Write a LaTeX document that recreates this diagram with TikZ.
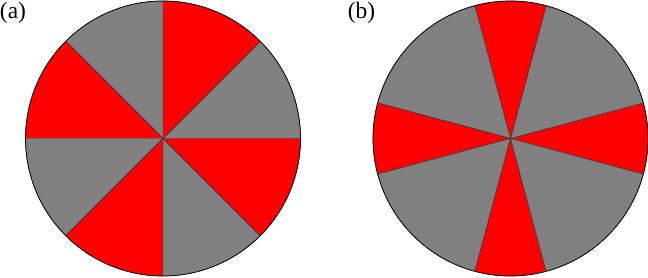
\documentclass[tikz,border=0pt]{standalone}
\usepackage{fontspec}
\setmainfont{Liberation Serif}
\usetikzlibrary{positioning}
\definecolor{sectred}{RGB}{255,0,0}
\definecolor{sectgray}{RGB}{128,128,128}
\definecolor{edgegray}{RGB}{55,55,55}

\begin{document}
\begin{tikzpicture}[
  x=0.03cm, y=0.03cm,
  panel/.style={font=\fontsize{20}{24}\selectfont, inner sep=0pt},
  sector/.style={fill=#1, draw=edgegray, line width=0.4pt},
  rim/.style={draw=black, line width=0.6pt},
]
\useasboundingbox (0,0) rectangle (648,277);

%% (a): eight equal sectors
\coordinate (ca) at (163,138.5);
\foreach \a/\c in {0/sectgray, 45/sectred, 90/sectgray, 135/sectred,
                   180/sectgray, 225/sectred, 270/sectgray, 315/sectred}
  \path[sector=\c] (ca) -- ++(\a:137.5)
    arc[start angle=\a, end angle=\a+45, radius=137.5] -- cycle;
\draw[rim] (ca) circle[radius=137.5];

%% (b): narrow red sectors, wide gray ones
\coordinate (cb) at (510.5,138.5);
\foreach \a/\w/\c in {-15/30/sectred, 15/60/sectgray, 75/30/sectred, 105/60/sectgray,
                      165/30/sectred, 195/60/sectgray, 255/30/sectred, 285/60/sectgray}
  \path[sector=\c] (cb) -- ++(\a:137.5)
    arc[start angle=\a, end angle=\a+\w, radius=137.5] -- cycle;
\draw[rim] (cb) circle[radius=137.5];

%% panel labels
\node[panel] (laba) at (13,264) {(a)};
\node[panel] (labb) at (361.5,264) {(b)};

\end{tikzpicture}
\end{document}
